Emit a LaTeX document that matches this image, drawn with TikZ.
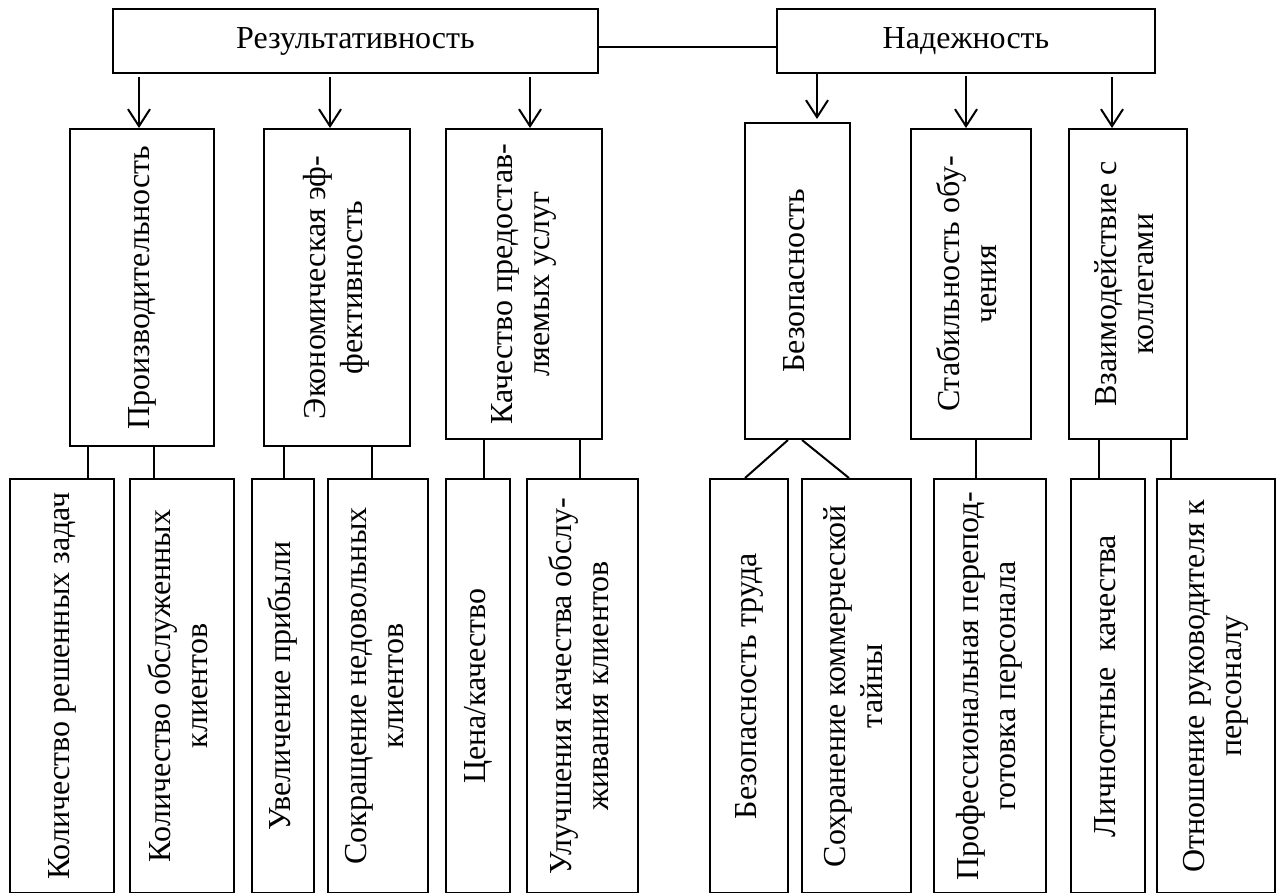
\documentclass[tikz,border=0pt]{standalone}
\usepackage{fontspec}
\setmainfont{Liberation Serif}
\usetikzlibrary{arrows.meta}
\newcommand\vtext[1]{\rotatebox{90}{\begin{tabular}{@{}c@{}}#1\end{tabular}}}
\begin{document}
\begin{tikzpicture}[x={(1pt,0)},y={(0,-1pt)},
  font=\fontsize{32}{37}\selectfont,
  box/.style={draw, line width=2pt, inner sep=0pt, fill=white},
  link/.style={line width=2pt},
  arr/.style={line width=2pt, -{Straight Barb[length=17pt,width=22pt,line width=2pt]}, line join=miter},
]
\path[use as bounding box, clip] (0,0) rectangle (1277,892);
\fill[white] (0,0) rectangle (1277,892);

% top level
\node[box, minimum width=485pt, minimum height=64pt] (res) at (355.5,41) {Результативность};
\node[box, minimum width=378pt, minimum height=64pt] (nad) at (966,41) {Надежность};
\draw[link] (res.east |- 0,47) -- (nad.west |- 0,47);

% middle level
\node[box, minimum width=144pt, minimum height=317pt] (p1) at (142,287.5) {\vtext{Производительность}};
\node[box, minimum width=146pt, minimum height=317pt] (p2) at (337,287.5) {\vtext{Экономическая эф-\\фективность}};
\node[box, minimum width=156pt, minimum height=310pt] (p3) at (524,284) {\vtext{Качество предостав-\\ляемых услуг}};
\node[box, minimum width=105pt, minimum height=316pt] (n1) at (797.5,281) {\vtext{Безопасность}};
\node[box, minimum width=120pt, minimum height=310pt] (n2) at (971,284) {\vtext{Стабильность обу-\\чения}};
\node[box, minimum width=118pt, minimum height=310pt] (n3) at (1128,284) {\vtext{Взаимодействие с\\коллегами}};

% bottom level
\tikzset{bbox/.style={box, minimum height=414pt}}
\node[bbox, minimum width=104pt] (b1) at (62,686) {\vtext{Количество решенных задач}};
\node[bbox, minimum width=104pt] (b2) at (182,686) {\vtext{Количество обслуженных\\клиентов}};
\node[bbox, minimum width=62pt] (b3) at (283,686) {\vtext{Увеличение прибыли}};
\node[bbox, minimum width=100pt] (b4) at (378,686) {\vtext{Сокращение недовольных\\клиентов}};
\node[bbox, minimum width=64pt] (b5) at (478,686) {\vtext{Цена/качество}};
\node[bbox, minimum width=111pt] (b6) at (582.5,686) {\vtext{Улучшения качества обслу-\\живания клиентов}};
\node[bbox, minimum width=78pt] (b7) at (749,686) {\vtext{Безопасность труда}};
\node[bbox, minimum width=109pt] (b8) at (856.5,686) {\vtext{Сохранение коммерческой\\тайны}};
\node[bbox, minimum width=112pt] (b9) at (990,686) {\vtext{Профессиональная перепод-\\готовка персонала}};
\node[bbox, minimum width=74pt] (b10) at (1108,686) {\vtext{Личностные\ \ качества}};
\node[bbox, minimum width=118pt] (b11) at (1216,686) {\vtext{Отношение руководителя к\\персоналу}};

% arrows top -> middle
\draw[arr, shorten <=3pt] (res.south -| 139,0) -- (p1.north -| 139,0);
\draw[arr, shorten <=3pt] (res.south -| 330,0) -- (p2.north -| 330,0);
\draw[arr, shorten <=3pt] (res.south -| 530,0) -- (p3.north -| 530,0);
\draw[arr, shorten >=3pt] (nad.south -| 817,0) -- (n1.north -| 817,0);
\draw[arr, shorten <=2pt] (nad.south -| 966,0) -- (n2.north -| 966,0);
\draw[arr, shorten <=3pt] (nad.south -| 1112,0) -- (n3.north -| 1112,0);

% connectors middle -> bottom
\draw[link] (p1.south -| 88,0) -- (b1.north -| 88,0);
\draw[link] (p1.south -| 154,0) -- (b2.north -| 154,0);
\draw[link] (p2.south -| 284,0) -- (b3.north -| 284,0);
\draw[link] (p2.south -| 372,0) -- (b4.north -| 372,0);
\draw[link] (p3.south -| 484,0) -- (b5.north -| 484,0);
\draw[link] (p3.south -| 580,0) -- (b6.north -| 580,0);
\draw[link] (n1.south -| 788,0) -- (b7.north -| 745,0);
\draw[link] (n1.south -| 802,0) -- (b8.north -| 849,0);
\draw[link] (n2.south -| 976,0) -- (b9.north -| 976,0);
\draw[link] (n3.south -| 1099,0) -- (b10.north -| 1099,0);
\draw[link] (n3.south -| 1171,0) -- (b11.north -| 1171,0);
\end{tikzpicture}
\end{document}
